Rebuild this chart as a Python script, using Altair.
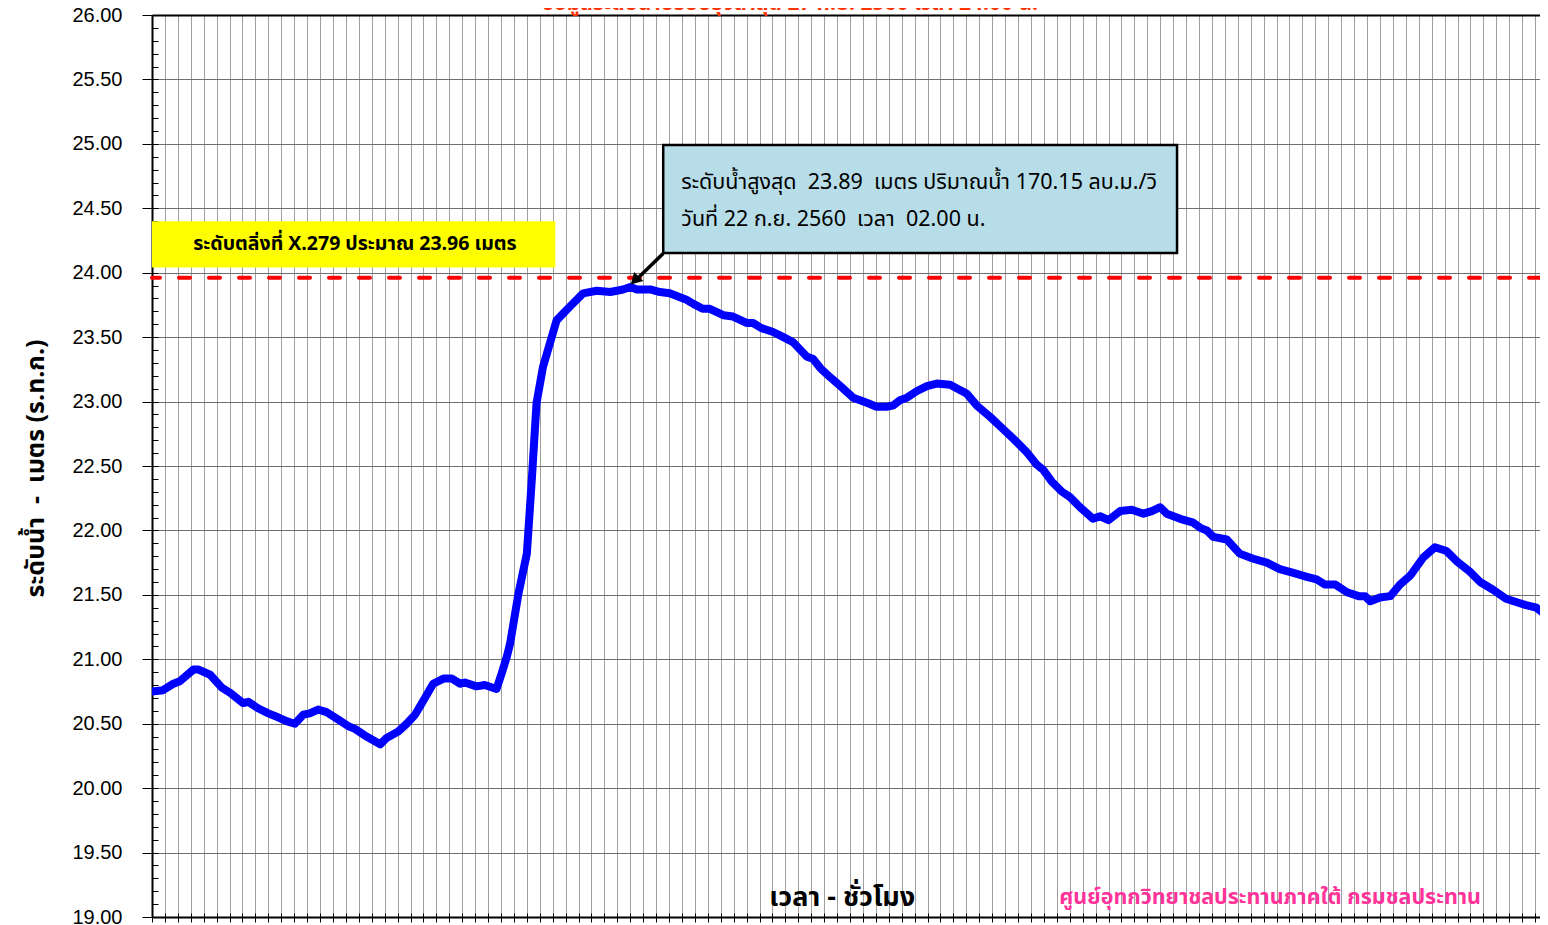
import altair as alt
import pandas as pd

# ---------------- data ----------------
hours = [0.0, 1.7, 3.3, 4.3, 6.4, 7.2, 9.0, 10.8, 12.1, 14.1, 14.9, 16.4, 18.0, 19.5,
         20.8, 22.1, 23.4, 24.4, 25.7, 27.0, 28.6, 30.4, 31.4, 33.2, 35.3, 36.3, 38.1,
         39.4, 40.7, 42.0, 43.5, 45.1, 46.4, 47.7, 48.4, 50.2, 51.5, 53.3, 54.1, 54.9,
         55.4, 56.7, 58.0, 58.8, 59.5, 60.5, 62.6, 64.7, 66.7, 68.8, 70.9, 72.9, 74.0,
         75.0, 77.1, 78.6, 80.1, 82.7, 83.7, 85.2, 86.3, 88.4, 89.9, 92.0, 93.0, 94.3,
         96.1, 97.7, 99.2, 101.3, 102.3, 103.4, 104.9, 106.5, 108.5, 110.6, 112.1, 113.7,
         114.7, 115.7, 116.8, 118.3, 119.9, 121.4, 123.5, 125.0, 126.1, 127.6, 129.7,
         131.2, 133.3, 135.3, 136.9, 137.9, 139.2, 140.8, 142.0, 143.6, 145.6, 146.7,
         148.0, 149.8, 151.6, 153.4, 154.7, 156.0, 157.0, 159.1, 161.1, 162.2, 163.2,
         164.2, 166.3, 168.3, 170.4, 172.5, 174.5, 176.6, 178.7, 180.2, 181.5, 183.1,
         184.9, 186.7, 187.7, 188.5, 190.0, 191.6, 193.1, 194.7, 196.7, 198.5, 200.3,
         201.9, 203.9, 205.5, 207.5, 209.5, 212.6, 214.2, 216.0]
levels = [20.75, 20.76, 20.81, 20.83, 20.92, 20.92, 20.88, 20.78, 20.74, 20.66, 20.67, 20.62, 20.58, 20.55,
          20.52, 20.50, 20.57, 20.58, 20.61, 20.59, 20.54, 20.48, 20.46, 20.40, 20.34, 20.39, 20.44,
          20.50, 20.57, 20.68, 20.81, 20.85, 20.85, 20.81, 20.82, 20.79, 20.80, 20.77, 20.89, 21.02,
          21.12, 21.51, 21.82, 22.42, 22.99, 23.27, 23.63, 23.74, 23.84, 23.86, 23.85, 23.87, 23.89,
          23.87, 23.87, 23.85, 23.84, 23.79, 23.76, 23.72, 23.72, 23.67, 23.66, 23.61, 23.61, 23.57,
          23.54, 23.50, 23.46, 23.35, 23.33, 23.26, 23.19, 23.12, 23.03, 22.99, 22.96, 22.96,
          22.97, 23.01, 23.03, 23.08, 23.12, 23.14, 23.13, 23.09, 23.06, 22.97, 22.88,
          22.81, 22.71, 22.61, 22.51, 22.47, 22.38, 22.30, 22.26, 22.18, 22.09, 22.11,
          22.08, 22.15, 22.16, 22.13, 22.15, 22.18, 22.13, 22.09, 22.06, 22.02, 22.00,
          21.95, 21.93, 21.82, 21.78, 21.75, 21.70, 21.67, 21.64, 21.62, 21.58, 21.58,
          21.52, 21.49, 21.49, 21.45, 21.48, 21.49, 21.58, 21.65, 21.79, 21.87, 21.84,
          21.76, 21.68, 21.60, 21.54, 21.47, 21.42, 21.40, 21.33]

bank_level = 23.96

NB = "\u00a0"
title_text = "ข้อมูลระดับน้ำปรับปรุงล่าสุด 27 ก.ย. 2560 เวลา 24.00 น."
bank_label = "ระดับตลิ่งที่ X.279 ประมาณ 23.96 เมตร"
callout_lines = ["ระดับน้ำสูงสุด" + NB + " 23.89" + NB + " เมตร ปริมาณน้ำ 170.15 ลบ.ม./วิ",
                 "วันที่ 22 ก.ย. 2560" + NB + " เวลา" + NB + " 02.00 น."]
x_title = "เวลา - ชั่วโมง"
y_title = "ระดับน้ำ" + NB + " -" + NB + " เมตร (ร.ท.ก.)"
credit = "ศูนย์อุทกวิทยาชลประทานภาคใต้ กรมชลประทาน"

X_MAX = 214.76
grid_hours = list(range(0, 216, 2))
y_major = [round(19 + 0.5 * i, 2) for i in range(15)]
y_minor = [round(19 + 0.1 * i, 1) for i in range(71)]

THAI = "Tahoma, 'Noto Sans Thai', 'Noto Sans Thai UI', 'Noto Sans', 'DejaVu Sans', sans-serif"
ARIAL = "'Liberation Sans', Arial, sans-serif"

# ---------------- chart ----------------
xs = alt.Scale(domain=[0, X_MAX], nice=False, zero=False)
ys = alt.Scale(domain=[19, 26], nice=False, zero=False)

df = pd.DataFrame({"hour": hours, "level": levels})

line = alt.Chart(df).mark_line(
    color="#0000FF", strokeWidth=8, strokeJoin="round", strokeCap="round", clip=True
).encode(
    x=alt.X("hour:Q", scale=xs, axis=alt.Axis(
        values=grid_hours, labels=False, tickSize=5, tickColor="#000", tickWidth=1,
        domainColor="#000", domainWidth=2, grid=True, gridColor="#a0a0a0", gridWidth=1,
        title=None)),
    y=alt.Y("level:Q", scale=ys, axis=alt.Axis(
        values=y_major, format=".2f", labelFont=ARIAL, labelFontSize=20, labelColor="#000",
        labelPadding=20, tickSize=10, tickColor="#000", domainColor="#000", domainWidth=2,
        grid=True, gridColor="#6e6e6e", gridWidth=1,
        title=y_title, titleFont=THAI, titleFontSize=25, titleFontWeight="bold",
        titleColor="#000", titleX=-117, titleY=453, titleAngle=270,
        titleAlign="center", titleBaseline="middle")),
)

bank_df = pd.DataFrame({"level": [bank_level]})
bank = alt.Chart(bank_df).mark_rule(
    color="#FF0000", strokeWidth=4, strokeDash=[11, 19], strokeCap="round"
).encode(
    y=alt.Y("level:Q", scale=ys, axis=alt.Axis(
        orient="left", values=y_minor, labels=False, tickSize=6, offset=-6,
        domain=False, grid=False, title=None, tickColor="#000")),
)

yellow_df = pd.DataFrame({"x0": [0.0], "x1": [62.4], "y0": [24.04], "y1": [24.40]})
yellow = alt.Chart(yellow_df).mark_rect(color="#FFFF00").encode(
    x=alt.X("x0:Q", scale=xs, axis=alt.Axis(
        orient="bottom", values=grid_hours, labels=False, tickSize=4, offset=-4,
        domain=False, grid=False, title=None, tickColor="#000")),
    x2="x1:Q",
    y=alt.Y("y0:Q", scale=ys, axis=None),
    y2="y1:Q",
)

ytext_df = pd.DataFrame({"x": [31.4], "y": [24.22], "t": [bank_label]})
ytext = alt.Chart(ytext_df).mark_text(
    font=THAI, fontSize=19.5, fontWeight="bold", color="#000", align="center", baseline="middle"
).encode(
    x=alt.X("x:Q", scale=xs, axis=alt.Axis(
        orient="top", domain=True, domainColor="#000", domainWidth=2, ticks=False,
        labels=False, grid=False, title=None)),
    y=alt.Y("y:Q", scale=ys, axis=None),
    text="t:N",
)

box_df = pd.DataFrame({"x0": [79.1], "x1": [158.6], "y0": [24.153], "y1": [24.991]})
box = alt.Chart(box_df).mark_rect(fill="#B7DDE8", stroke="#000", strokeWidth=2.5).encode(
    x=alt.X("x0:Q", scale=xs, axis=None), x2="x1:Q",
    y=alt.Y("y0:Q", scale=ys, axis=None), y2="y1:Q",
)

btext_df = pd.DataFrame({"x": [81.9, 81.9], "y": [24.70, 24.41], "t": callout_lines})
btext = alt.Chart(btext_df).mark_text(
    font=THAI, fontSize=21.5, color="#000", align="left", baseline="middle"
).encode(
    x=alt.X("x:Q", scale=xs, axis=None),
    y=alt.Y("y:Q", scale=ys, axis=None),
    text="t:N",
)

arrow_df = pd.DataFrame({"x": [79.1, 74.6], "y": [24.15, 23.93]})
arrow = alt.Chart(arrow_df).mark_line(color="#000", strokeWidth=3.5).encode(
    x=alt.X("x:Q", scale=xs, axis=None),
    y=alt.Y("y:Q", scale=ys, axis=None),
)
head_df = pd.DataFrame({"x": [74.9], "y": [23.95]})
head = alt.Chart(head_df).mark_point(
    shape="triangle", angle=225, size=170, filled=True, color="#000", opacity=1
).encode(
    x=alt.X("x:Q", scale=xs, axis=None),
    y=alt.Y("y:Q", scale=ys, axis=None),
)

xt_df = pd.DataFrame({"x": [106.8], "y": [19.15], "t": [x_title]})
xt = alt.Chart(xt_df).mark_text(
    font=THAI, fontSize=27, fontWeight="bold", color="#000", align="center", baseline="middle"
).encode(
    x=alt.X("x:Q", scale=xs, axis=None),
    y=alt.Y("y:Q", scale=ys, axis=None),
    text="t:N",
)

cr_df = pd.DataFrame({"x": [173.0], "y": [19.15], "t": [credit]})
cr = alt.Chart(cr_df).mark_text(
    font=THAI, fontSize=21.5, fontWeight="bold", color="#FF3399", align="center", baseline="middle"
).encode(
    x=alt.X("x:Q", scale=xs, axis=None),
    y=alt.Y("y:Q", scale=ys, axis=None),
    text="t:N",
)

tt_df = pd.DataFrame({"x": [98.7], "y": [26.039], "t": [title_text]})
tt = alt.Chart(tt_df).mark_text(
    font=THAI, fontSize=21, fontWeight="bold", color="#FF3300", align="center",
    baseline="alphabetic"
).encode(
    x=alt.X("x:Q", scale=xs, axis=None),
    y=alt.Y("y:Q", scale=ys, axis=None),
    text="t:N",
)

chart = alt.layer(
    line, bank, yellow, ytext, box, btext, arrow, head, xt, cr, tt
).resolve_scale(
    x="shared", y="shared"
).resolve_axis(
    x="independent", y="independent"
).properties(
    width=1388, height=902,
    padding={"left": 144, "top": 7, "right": 0, "bottom": 10},
    autosize=alt.AutoSizeParams(type="none"),
    background="#FFFFFF",
).configure_view(strokeWidth=0)

chart.save("out.html", embed_options={"renderer": "svg", "actions": False})
